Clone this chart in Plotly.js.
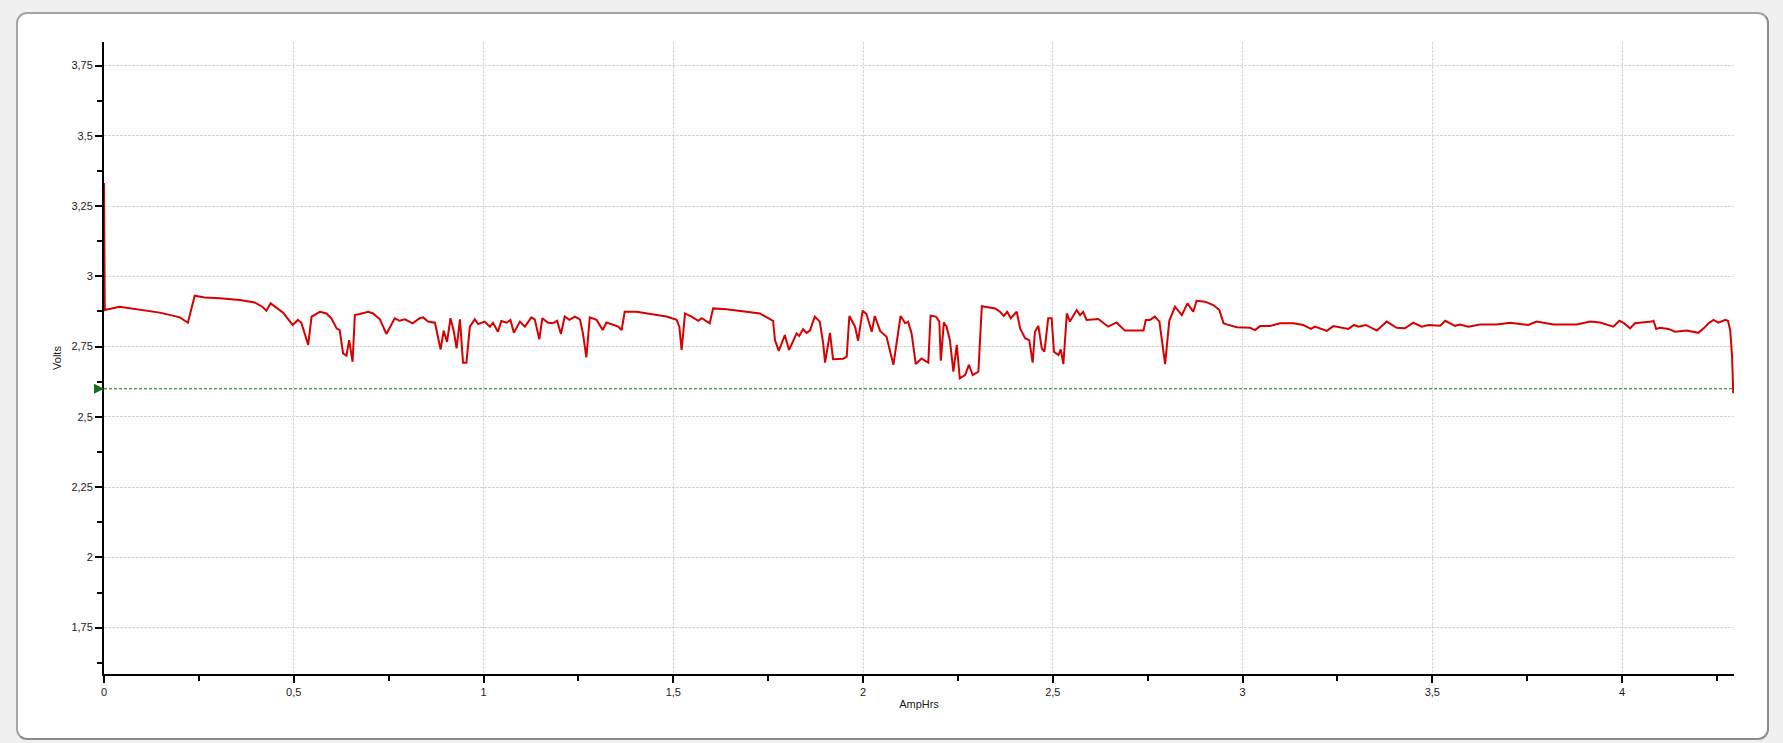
<!DOCTYPE html>
<html>
<head>
<meta charset="utf-8">
<script src="https://cdn.plot.ly/plotly-3.0.1.min.js"></script>
<style>
  html, body { margin:0; padding:0; background:#f0f0f0; }
  #frame { position:absolute; left:16px; top:12px; width:1753px; height:728px; box-sizing:border-box;
           background:#ffffff; border:2px solid #a4a4a4; border-right-color:#8c8c8c; border-bottom-color:#8c8c8c; border-radius:11px; }
  #chart { position:absolute; left:0; top:0; width:1783px; height:743px; }
</style>
</head>
<body>
<div id="frame"></div>
<div id="chart"></div>
<script>
// Discharge curve: capacity (AmpHrs) vs cell voltage (Volts)
const ampHrs = [
  0, 0.0005, 0.001, 0.002, 0.041, 0.076, 0.147, 0.2, 0.221, 0.239, 0.265, 0.305, 0.358, 0.397, 0.417, 0.428, 0.439, 0.472, 0.497,
  0.511, 0.52, 0.538, 0.547, 0.569, 0.586, 0.599, 0.613, 0.621, 0.63, 0.639, 0.646, 0.655, 0.661, 0.674, 0.696, 0.709, 0.727,
  0.744, 0.766, 0.779, 0.793, 0.813, 0.832, 0.841, 0.854, 0.872, 0.887, 0.895, 0.904, 0.913, 0.922, 0.929, 0.938, 0.946, 0.955,
  0.964, 0.977, 0.986, 1.003, 1.017, 1.025, 1.038, 1.047, 1.061, 1.071, 1.08, 1.096, 1.109, 1.126, 1.135, 1.147, 1.155, 1.17,
  1.182, 1.194, 1.204, 1.214, 1.226, 1.241, 1.254, 1.262, 1.271, 1.28, 1.298, 1.314, 1.324, 1.342, 1.355, 1.364, 1.372, 1.403,
  1.447, 1.482, 1.509, 1.516, 1.522, 1.531, 1.548, 1.566, 1.575, 1.596, 1.605, 1.64, 1.693, 1.728, 1.763, 1.768, 1.778, 1.794,
  1.805, 1.825, 1.832, 1.842, 1.851, 1.86, 1.873, 1.886, 1.895, 1.9, 1.913, 1.921, 1.948, 1.957, 1.964, 1.979, 1.987, 1.999,
  2.009, 2.023, 2.031, 2.045, 2.062, 2.08, 2.099, 2.111, 2.119, 2.128, 2.139, 2.154, 2.163, 2.172, 2.178, 2.192, 2.201, 2.205,
  2.213, 2.22, 2.229, 2.238, 2.247, 2.255, 2.269, 2.279, 2.289, 2.304, 2.313, 2.348, 2.361, 2.371, 2.38, 2.389, 2.405, 2.414,
  2.427, 2.438, 2.447, 2.453, 2.462, 2.471, 2.478, 2.488, 2.497, 2.503, 2.515, 2.521, 2.528, 2.537, 2.545, 2.563, 2.572, 2.58,
  2.589, 2.62, 2.646, 2.668, 2.69, 2.739, 2.745, 2.756, 2.769, 2.781, 2.796, 2.807, 2.822, 2.84, 2.855, 2.87, 2.879, 2.901,
  2.923, 2.939, 2.95, 2.958, 2.985, 3.02, 3.033, 3.046, 3.072, 3.099, 3.134, 3.16, 3.18, 3.191, 3.222, 3.239, 3.279, 3.294,
  3.305, 3.325, 3.354, 3.38, 3.406, 3.428, 3.45, 3.472, 3.49, 3.521, 3.534, 3.56, 3.573, 3.595, 3.626, 3.67, 3.705, 3.753,
  3.775, 3.819, 3.881, 3.916, 3.942, 3.977, 3.993, 4.004, 4.021, 4.034, 4.078, 4.083, 4.09, 4.1, 4.122, 4.14, 4.171, 4.201,
  4.215, 4.228, 4.241, 4.254, 4.272, 4.279, 4.285, 4.29, 4.293
];
const volts = [
  3.332, 2.88, 3.052, 2.88, 2.892, 2.885, 2.871, 2.854, 2.835, 2.931, 2.925, 2.922, 2.916, 2.907, 2.892, 2.878, 2.904, 2.871, 2.827,
  2.845, 2.835, 2.756, 2.857, 2.874, 2.868, 2.851, 2.815, 2.809, 2.726, 2.718, 2.773, 2.696, 2.862, 2.866, 2.874, 2.868, 2.847,
  2.795, 2.851, 2.842, 2.847, 2.833, 2.851, 2.854, 2.839, 2.835, 2.74, 2.807, 2.767, 2.851, 2.803, 2.744, 2.847, 2.693, 2.693,
  2.821, 2.847, 2.83, 2.839, 2.821, 2.835, 2.803, 2.841, 2.835, 2.845, 2.799, 2.839, 2.821, 2.854, 2.847, 2.776, 2.851, 2.835,
  2.833, 2.842, 2.795, 2.857, 2.845, 2.857, 2.847, 2.797, 2.712, 2.854, 2.845, 2.809, 2.836, 2.827, 2.821, 2.809, 2.874, 2.874,
  2.866, 2.857, 2.845, 2.821, 2.738, 2.868, 2.857, 2.842, 2.851, 2.833, 2.886, 2.883, 2.874, 2.868, 2.842, 2.773, 2.735, 2.791,
  2.738, 2.797, 2.788, 2.812, 2.799, 2.807, 2.857, 2.839, 2.762, 2.693, 2.799, 2.705, 2.707, 2.714, 2.859, 2.821, 2.771, 2.878,
  2.866, 2.803, 2.859, 2.806, 2.785, 2.685, 2.859, 2.833, 2.839, 2.797, 2.688, 2.708, 2.7, 2.693, 2.86, 2.857, 2.839, 2.7,
  2.836, 2.821, 2.773, 2.661, 2.756, 2.637, 2.649, 2.685, 2.649, 2.661, 2.894, 2.886, 2.874, 2.859, 2.874, 2.851, 2.874, 2.815,
  2.78, 2.773, 2.693, 2.803, 2.824, 2.744, 2.732, 2.851, 2.851, 2.732, 2.72, 2.74, 2.688, 2.868, 2.839, 2.88, 2.862, 2.874,
  2.845, 2.848, 2.821, 2.836, 2.807, 2.807, 2.845, 2.845, 2.857, 2.839, 2.688, 2.842, 2.892, 2.862, 2.904, 2.874, 2.913, 2.91,
  2.898, 2.88, 2.833, 2.829, 2.819, 2.817, 2.809, 2.823, 2.823, 2.833, 2.833, 2.827, 2.813, 2.821, 2.806, 2.823, 2.813, 2.827,
  2.821, 2.827, 2.807, 2.839, 2.817, 2.815, 2.835, 2.821, 2.827, 2.824, 2.842, 2.824, 2.829, 2.821, 2.829, 2.829, 2.835, 2.827,
  2.839, 2.829, 2.829, 2.839, 2.836, 2.821, 2.842, 2.835, 2.815, 2.833, 2.839, 2.842, 2.813, 2.817, 2.813, 2.803, 2.807, 2.799,
  2.815, 2.833, 2.845, 2.835, 2.845, 2.842, 2.809, 2.714, 2.584
];
// Cut-off voltage marker
const cutoffVolts = [2.6];
// Axis ranges and tick spacing
const xRange = [0, 4.295];
const yRange = [1.585, 3.834];
const xTickStep = 0.5;
const yTickStep = 0.25;
const xTitle = "AmpHrs";
const yTitle = "Volts";

const fontFamily = "'Liberation Sans', Arial, sans-serif";

const traces = [
  {
    x: xRange, y: [cutoffVolts[0], cutoffVolts[0]],
    mode: "lines", line: { color: "#16701a", width: 1, dash: "3px,2px" },
    hoverinfo: "skip", showlegend: false
  },
  {
    x: ampHrs, y: volts,
    mode: "lines", line: { color: "#d60000", width: 2 },
    showlegend: false
  }
];

const gridColor = "#d6d6d6";
const layout = {
  width: 1783, height: 743,
  margin: { l: 104, r: 49, t: 42, b: 69, pad: 0 },
  paper_bgcolor: "rgba(0,0,0,0)",
  plot_bgcolor: "rgba(0,0,0,0)",
  separators: ", ",
  font: { family: fontFamily, size: 11, color: "#1a1a1a" },
  showlegend: false,
  xaxis: {
    range: xRange, autorange: false,
    tick0: 0, dtick: xTickStep,
    ticks: "outside", ticklen: 7, tickwidth: 2, tickcolor: "#000",
    showline: true, linecolor: "#000", linewidth: 2, mirror: false,
    showgrid: true, gridcolor: gridColor, gridwidth: 1, griddash: "3px,1px",
    zeroline: false,
    minor: { dtick: xTickStep / 2, ticks: "outside", ticklen: 5, tickwidth: 2, tickcolor: "#000", showgrid: false },
    title: { text: xTitle, font: { size: 11, family: fontFamily, color: "#1a1a1a" }, standoff: 3 },
    fixedrange: true
  },
  yaxis: {
    range: yRange, autorange: false,
    tick0: 0, dtick: yTickStep,
    ticks: "outside", ticklen: 7, tickwidth: 2, tickcolor: "#000",
    showline: true, linecolor: "#000", linewidth: 2, mirror: false,
    showgrid: true, gridcolor: gridColor, gridwidth: 1, griddash: "3px,1px",
    zeroline: false,
    minor: { dtick: yTickStep / 2, ticks: "outside", ticklen: 5, tickwidth: 2, tickcolor: "#000", showgrid: false },
    title: { text: yTitle, font: { size: 11, family: fontFamily, color: "#1a1a1a" }, standoff: 8 },
    fixedrange: true
  },
  annotations: [
    {
      x: 0, y: cutoffVolts[0], xref: "x", yref: "y",
      text: "", showarrow: true, ax: -10, ay: 0,
      arrowhead: 2, arrowsize: 1, arrowwidth: 2, arrowcolor: "#16701a", standoff: 0
    }
  ]
};

Plotly.newPlot("chart", traces, layout, { staticPlot: true, displayModeBar: false });
</script>
</body>
</html>
